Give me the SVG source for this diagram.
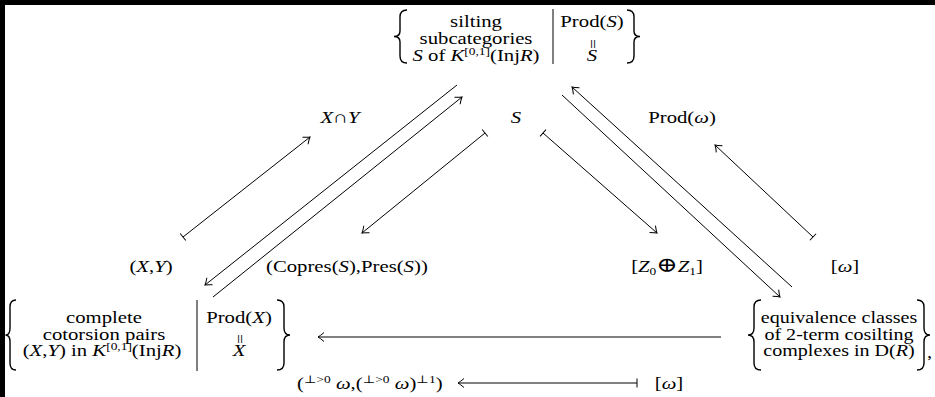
<svg xmlns="http://www.w3.org/2000/svg" width="935" height="397" viewBox="0 0 935 397">
<style>
text{font-family:"Liberation Serif","DejaVu Serif",serif;font-size:17px;fill:#000}
.m{text-anchor:middle}
.i{font-style:italic}
.sup{font-size:11px}
.br{fill:none;stroke:#000;stroke-width:1.4}
.bar{stroke:#000;stroke-width:1}
.c{fill:none;stroke:#000;stroke-width:1}
</style>
<defs>
<marker id="ah" markerWidth="12" markerHeight="12" refX="0" refY="0" viewBox="-8 -6 10 12" orient="auto" markerUnits="userSpaceOnUse">
<path d="M -6 -4.5 Q -2 -1 0 0 Q -2 1 -6 4.5" fill="none" stroke="#000" stroke-width="1"/>
</marker>
<marker id="bt" markerWidth="12" markerHeight="12" refX="0" refY="0" viewBox="-6 -6 12 12" orient="auto" markerUnits="userSpaceOnUse">
<path d="M 0 -4.5 L 0 4.5" fill="none" stroke="#000" stroke-width="1"/>
</marker>
</defs>
<rect x="0" y="0" width="935" height="397" fill="#fff"/>
<rect x="0" y="0" width="935" height="5" fill="#000"/>
<rect x="0" y="0" width="5" height="397" fill="#000"/>

<g id="top-node">
<path class="br" d="M 407 10 Q 400 10 400 17 L 400 31 Q 400 36.5 394 36.5 Q 400 36.5 400 42 L 400 56 Q 400 63 407 63"/>
<text class="m" transform="translate(476 27) scale(1.22 1)">silting</text>
<text class="m" transform="translate(476 44) scale(1.22 1)">subcategories</text>
<text class="m" transform="translate(476 61) scale(1.22 1)"><tspan class="i">S</tspan> of <tspan class="i">K</tspan><tspan class="sup" dy="-6">[0,1]</tspan><tspan dy="6">(Inj</tspan><tspan class="i">R</tspan>)</text>
<line class="bar" x1="553" y1="9" x2="553" y2="64"/>
<text class="m" transform="translate(592 27) scale(1.22 1)">Prod(<tspan class="i">S</tspan>)</text>
<text class="m" transform="translate(592 44) rotate(90)" dy="5">=</text>
<text class="m i" transform="translate(592 61) scale(1.22 1)">S</text>
<path class="br" d="M 627 10 Q 634 10 634 17 L 634 31 Q 634 36.5 640 36.5 Q 634 36.5 634 42 L 634 56 Q 634 63 627 63"/>
</g>

<g id="label-xy-cap"><text class="m i" transform="translate(340 123) scale(1.22 1)">X<tspan font-style="normal">∩</tspan>Y</text></g>
<g id="label-s"><text class="m i" transform="translate(516 123) scale(1.22 1)">S</text></g>
<g id="label-prod-omega"><text class="m" transform="translate(682 123) scale(1.22 1)">Prod(<tspan class="i">ω</tspan>)</text></g>
<g id="label-xy"><text class="m" transform="translate(151 272) scale(1.22 1)">(<tspan class="i">X</tspan>,<tspan class="i">Y</tspan>)</text></g>
<g id="label-copres"><text transform="translate(266 272) scale(1.22 1)">(Copres(<tspan class="i">S</tspan>),Pres(<tspan class="i">S</tspan>))</text></g>
<g id="label-z"><text class="m" transform="translate(667 272) scale(1.22 1)">[<tspan class="i">Z</tspan><tspan class="sup" dy="3">0</tspan><tspan dy="-3" font-size="21">⊕</tspan><tspan class="i">Z</tspan><tspan class="sup" dy="3">1</tspan><tspan dy="-3">]</tspan></text></g>
<g id="label-omega"><text class="m" transform="translate(845 272) scale(1.22 1)">[<tspan class="i">ω</tspan>]</text></g>

<g id="bottom-left-node">
<path class="br" d="M 16 300 Q 10 300 10 307 L 10 328 Q 10 335 5.5 335 Q 10 335 10 342 L 10 363 Q 10 370 16 370"/>
<text class="m" transform="translate(104 323) scale(1.22 1)">complete</text>
<text class="m" transform="translate(104 340) scale(1.22 1)">cotorsion pairs</text>
<text class="m" transform="translate(102 356) scale(1.22 1)">(<tspan class="i">X</tspan>,<tspan class="i">Y</tspan>) in <tspan class="i">K</tspan><tspan class="sup" dy="-6">[0,1]</tspan><tspan dy="6">(Inj</tspan><tspan class="i">R</tspan>)</text>
<line class="bar" x1="197" y1="300" x2="197" y2="371"/>
<text class="m" transform="translate(239 323) scale(1.22 1)">Prod(<tspan class="i">X</tspan>)</text>
<text class="m" transform="translate(239 339) rotate(90)" dy="5">=</text>
<text class="m i" transform="translate(239 356) scale(1.22 1)">X</text>
<path class="br" d="M 277 300 Q 284 300 284 307 L 284 328 Q 284 335 290 335 Q 284 335 284 342 L 284 363 Q 284 370 277 370"/>
</g>

<g id="bottom-right-node">
<path class="br" d="M 761 300 Q 754 300 754 307 L 754 328 Q 754 335 748 335 Q 754 335 754 342 L 754 363 Q 754 370 761 370"/>
<text class="m" transform="translate(839 323) scale(1.18 1)">equivalence classes</text>
<text class="m" transform="translate(839 340) scale(1.18 1)">of 2-term cosilting</text>
<text class="m" transform="translate(839 356) scale(1.18 1)">complexes in D(<tspan class="i">R</tspan>)</text>
<path class="br" d="M 917 300 Q 924 300 924 307 L 924 328 Q 924 335 930 335 Q 924 335 924 342 L 924 363 Q 924 370 917 370"/>
<text transform="translate(927 358) scale(1.22 1)">,</text>
</g>

<g id="label-perp"><text transform="translate(297 389) scale(1.22 1)">(<tspan class="sup" dy="-6">⊥&gt;0</tspan><tspan dy="6"> </tspan><tspan class="i">ω</tspan>,(<tspan class="sup" dy="-6">⊥&gt;0</tspan><tspan dy="6"> </tspan><tspan class="i">ω</tspan>)<tspan class="sup" dy="-6">⊥1</tspan><tspan dy="6">)</tspan></text></g>
<g id="label-omega-bottom"><text class="m" transform="translate(669 389) scale(1.22 1)">[<tspan class="i">ω</tspan>]</text></g>

<g id="connectors">
<line class="c" x1="183" y1="237" x2="310" y2="137" marker-start="url(#bt)" marker-end="url(#ah)"/>
<line class="c" x1="457" y1="85" x2="205" y2="285" marker-end="url(#ah)"/>
<line class="c" x1="213" y1="297" x2="462" y2="97" marker-end="url(#ah)"/>
<line class="c" x1="485" y1="133" x2="362" y2="233" marker-start="url(#bt)" marker-end="url(#ah)"/>
<line class="c" x1="543" y1="133" x2="657" y2="233" marker-start="url(#bt)" marker-end="url(#ah)"/>
<line class="c" x1="792" y1="287" x2="572" y2="87" marker-end="url(#ah)"/>
<line class="c" x1="562" y1="95" x2="780" y2="297" marker-end="url(#ah)"/>
<line class="c" x1="813" y1="237" x2="715" y2="145" marker-start="url(#bt)" marker-end="url(#ah)"/>
<line class="c" x1="721" y1="337" x2="318" y2="337" marker-end="url(#ah)"/>
<line class="c" x1="637" y1="383" x2="458" y2="383" marker-start="url(#bt)" marker-end="url(#ah)"/>
</g>
</svg>
